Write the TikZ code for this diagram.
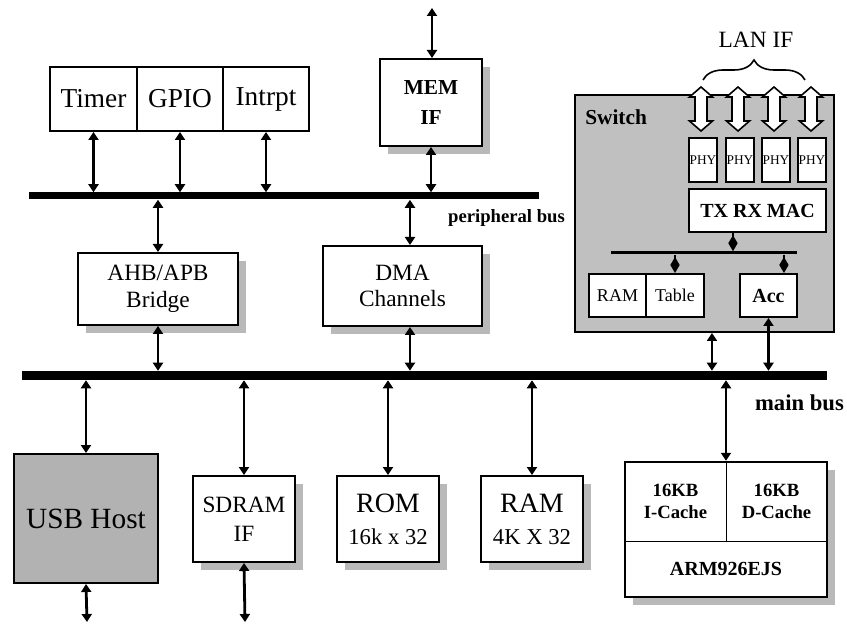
\documentclass[tikz,border=0pt]{standalone}
\usepackage{fontspec}
\setmainfont{Liberation Serif}
\usetikzlibrary{arrows.meta,shadows,decorations.pathreplacing}
\definecolor{swgray}{RGB}{192,192,192}
\definecolor{usbgray}{RGB}{178,178,178}
\definecolor{shgray}{RGB}{185,185,185}
\newcommand\lanarr[1]{\draw[lanarrow] (#1,87) -- ++(11.5,10) -- ++(-5.5,0) -- ++(0,24) -- ++(5.5,0) -- ++(-11.5,10) -- ++(-11.5,-10) -- ++(5.5,0) -- ++(0,-24) -- ++(-5.5,0) -- cycle;}
\begin{document}
\begin{tikzpicture}[x=0.75pt,y=-0.75pt,
  wh/.style 2 args={minimum width=#1*0.75pt, minimum height=#2*0.75pt},
  box/.style={draw, line width=1.5pt, fill=white, inner sep=0pt, align=center},
  txt/.style={inner sep=0pt, align=center},
  shad/.style={drop shadow={shadow xshift=6pt, shadow yshift=-6pt, fill=shgray, opacity=1}},
  bus/.style={fill=black, inner sep=0pt, draw=none},
  arr/.style={{Triangle[length=6pt,width=7.5pt]}-{Triangle[length=6pt,width=7.5pt]}, line width=2.1pt},
  dia/.style={-{Diamond[length=12pt,width=7pt]}, line width=1.5pt},
  lanarrow/.style={draw, fill=white, line width=1.2pt, line join=miter},
  divider/.style={line width=1pt},
  fbig/.style={font=\fontsize{20.5}{24}\selectfont},
  fmem/.style={font=\fontsize{16}{22}\selectfont\bfseries},
  fmid/.style={font=\fontsize{17.5}{20}\selectfont},
  fsd/.style={font=\fontsize{17.5}{22}\selectfont},
  fusb/.style={font=\fontsize{22}{24}\selectfont},
  fphy/.style={font=\fontsize{10}{11}\selectfont},
  fmac/.style={font=\fontsize{15}{18}\selectfont\bfseries},
  fsmall/.style={font=\fontsize{13.5}{15}\selectfont},
  fcache/.style={font=\fontsize{14}{17}\selectfont\bfseries},
  flabel/.style={font=\fontsize{14}{16}\selectfont\bfseries},
  fmain/.style={font=\fontsize{17}{19}\selectfont\bfseries},
]
\useasboundingbox (0,0) rectangle (847,624);

% buses
\node[bus, wh={510}{7}] (pbus) at (284,196) {};
\node[bus, wh={805}{9}] (mbus) at (424.5,375.5) {};
\node[flabel] (plabel) at (506.5,218) {peripheral bus};
\node[fmain] (mlabel) at (799.5,403) {main bus};

% peripheral blocks
\node[box, fbig, wh={87}{64}] (timer) at (93.5,99) {Timer};
\node[box, fbig, wh={86}{64}] (gpio) at (180,99) {GPIO};
\node[box, fbig, wh={86}{64}] (intr) at (266,99) {Intrpt};
\node[box, fmem, shad, wh={102}{87}] (memif) at (431,102.5) {MEM\\IF};
\coordinate (memtop) at (432,8);

\node[box, fmid, shad, wh={160}{72}] (ahb) at (158,289) {AHB/APB\\Bridge};
\node[box, fmid, shad, wh={159}{80}] (dma) at (402.5,286) {DMA\\Channels};

% switch
\node[draw, line width=1.5pt, fill=swgray, wh={259}{237}] (switch) at (704.5,213.5) {};
\node[txt, font=\fontsize{16}{18}\selectfont\bfseries, anchor=west] (swlabel) at (585,117) {Switch};
\node[box, fphy, wh={28}{44}] (phy1) at (703,160) {PHY};
\node[box, fphy, wh={28}{44}] (phy2) at (740,160) {PHY};
\node[box, fphy, wh={28}{44}] (phy3) at (776,160) {PHY};
\node[box, fphy, wh={28}{44}] (phy4) at (812,160) {PHY};
\lanarr{701}
\lanarr{738}
\lanarr{774}
\lanarr{811}
\node[box, fmac, wh={137}{43}] (mac) at (757.5,210.5) {TX RX MAC};
\node[bus, wh={186}{3}] (ibus) at (704,253) {};
\node[box, fsmall, wh={57}{43}] (sram) at (617.5,295.5) {RAM};
\node[box, fsmall, wh={58}{43}] (table) at (675,295.5) {Table};
\node[box, fmac, wh={57}{43}] (acc) at (768.5,295.5) {Acc};
\draw[dia] ([xshift=-18.4pt]mac.south) -- ([xshift=-18.4pt]mac.south |- ibus.north);
\draw[dia] (table.north |- ibus.south) -- (table.north);
\draw[dia] ([xshift=11.6pt]acc.north |- ibus.south) -- ([xshift=11.6pt]acc.north);

% LAN IF
\node[txt, font=\fontsize{17.5}{19}\selectfont] (lan) at (756,40) {LAN IF};
\coordinate (brl) at (703,80);
\coordinate (brr) at (805,80);
\draw[decorate, decoration={brace, amplitude=15pt}, line width=1.2pt] (brl) -- (brr);

% lower blocks
\node[box, fusb, fill=usbgray, wh={144}{129}] (usb) at (86,518.5) {USB Host};
\node[box, fsd, shad, wh={102}{86}] (sdram) at (244,519) {SDRAM\\IF};
\node[box, shad, wh={102}{86}, font=\fontsize{17}{24}\selectfont] (rom) at (388,519) {{\fontsize{21}{24}\selectfont ROM}\\16k x 32};
\node[box, shad, wh={102}{86}, font=\fontsize{17}{24}\selectfont] (ram) at (532,519) {{\fontsize{21}{24}\selectfont RAM}\\4K X 32};
\node[box, shad, line width=1.8pt, wh={202}{135}] (arm) at (726,529.5) {};
\node[txt, fcache, wh={101}{79}] (icache) at (675.5,501.5) {16KB\\I-Cache};
\node[txt, fcache, wh={101}{79}] (dcache) at (776.5,501.5) {16KB\\D-Cache};
\node[txt, fmac, wh={202}{56}] (core) at (726,569) {ARM926EJS};
\draw[divider] (icache.north east) -- (icache.south east);
\draw[divider] (icache.south west) -- (dcache.south east);
\coordinate (usbend) at (87,622);
\coordinate (sdend) at (245,622);

% connectors
\draw[arr] (timer.south) -- (timer.south |- pbus.north);
\draw[arr] (gpio.south) -- (gpio.south |- pbus.north);
\draw[arr] (intr.south) -- (intr.south |- pbus.north);
\draw[arr] (memtop) -- (memtop |- memif.north);
\draw[arr] (memif.south) -- (memif.south |- pbus.north);
\draw[arr] (ahb.north |- pbus.south) -- (ahb.north);
\draw[arr] (ahb.south) -- (ahb.south |- mbus.north);
\draw[arr] ([xshift=5.6pt]dma.north |- pbus.south) -- ([xshift=5.6pt]dma.north);
\draw[arr] ([xshift=5.6pt]dma.south) -- ([xshift=5.6pt]dma.south |- mbus.north);
\draw[arr] ([xshift=5.6pt]switch.south) -- ([xshift=5.6pt]switch.south |- mbus.north);
\draw[arr] (acc.south) -- (acc.south |- mbus.north);
\draw[arr] (usb.north |- mbus.south) -- (usb.north);
\draw[arr] (usb.south) -- (usbend);
\draw[arr] (sdram.north |- mbus.south) -- (sdram.north);
\draw[arr] (sdram.south) -- (sdend);
\draw[arr] (rom.north |- mbus.south) -- (rom.north);
\draw[arr] (ram.north |- mbus.south) -- (ram.north);
\draw[arr] (arm.north |- mbus.south) -- (arm.north);
\end{tikzpicture}
\end{document}
